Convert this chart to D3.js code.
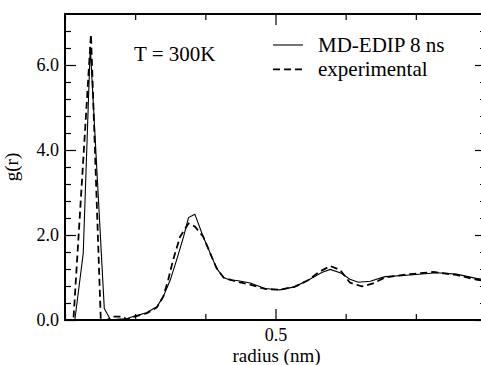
<!DOCTYPE html>
<html>
<head>
<meta charset="utf-8">
<script src="https://cdn.jsdelivr.net/npm/d3@7"></script>
<style>
  body { margin: 0; background: #fff; }
</style>
</head>
<body>
<div id="chart"></div>
<script>
// MD-EDIP 8 ns (solid)
const mdRadius = [0.200, 0.214, 0.226, 0.236, 0.256, 0.265, 0.278, 0.288, 0.297, 0.316, 0.331, 0.340, 0.350, 0.359, 0.369, 0.376, 0.385, 0.397, 0.407, 0.416, 0.426, 0.435, 0.445, 0.464, 0.485, 0.506, 0.527, 0.547, 0.566, 0.578, 0.594, 0.606, 0.618, 0.635, 0.656, 0.692, 0.730, 0.758, 0.786, 0.800];
const mdG = [0, 0, 1.57, 6.43, 0.27, 0.0, 0.02, 0.03, 0.08, 0.17, 0.31, 0.55, 0.94, 1.41, 1.96, 2.41, 2.49, 1.96, 1.57, 1.22, 1.00, 0.94, 0.93, 0.87, 0.74, 0.71, 0.78, 0.94, 1.12, 1.19, 1.10, 0.96, 0.89, 0.91, 1.02, 1.06, 1.11, 1.08, 0.98, 0.95];

// experimental (dashed)
const expRadius = [0.200, 0.212, 0.237, 0.251, 0.260, 0.268, 0.283, 0.288, 0.296, 0.317, 0.331, 0.340, 0.347, 0.354, 0.364, 0.376, 0.385, 0.397, 0.407, 0.416, 0.426, 0.445, 0.464, 0.485, 0.506, 0.527, 0.547, 0.561, 0.578, 0.592, 0.606, 0.623, 0.639, 0.656, 0.692, 0.725, 0.758, 0.786, 0.800];
const expG = [0, 0, 6.72, 0, 0, 0.08, 0.08, 0.0, 0.07, 0.16, 0.30, 0.55, 0.94, 1.41, 1.96, 2.27, 2.20, 1.96, 1.57, 1.22, 1.00, 0.90, 0.83, 0.73, 0.71, 0.78, 0.94, 1.12, 1.27, 1.18, 0.88, 0.79, 0.86, 1.00, 1.08, 1.13, 1.06, 0.95, 0.92];

const xMajor = [0.5];
const xMinor = [0.2, 0.3, 0.4, 0.6, 0.7, 0.8];
const yMajor = [0, 2, 4, 6];
const yMinor = [0.4, 0.8, 1.2, 1.6, 2.4, 2.8, 3.2, 3.6, 4.4, 4.8, 5.2, 5.6, 6.4, 6.8];

const legendLabels = ["MD-EDIP 8 ns", "experimental"];

const width = 481, height = 365;
const plotLeft = 65, plotTop = 14, plotRight = 486, plotBottom = 320;

const svg = d3.select("#chart").append("svg")
    .attr("width", width)
    .attr("height", height);

// x runs past the cropped right edge, like the original figure
const x = d3.scaleLinear().domain([0.2, 0.8]).range([plotLeft, plotRight]);
const y = d3.scaleLinear().domain([0, 7.2]).range([plotBottom, plotTop]);

const plain = sel => {
    sel.select(".domain").remove();
    sel.selectAll("line").attr("stroke", "#000").attr("stroke-width", 1.2);
};

// ticks point inward and are mirrored on all four sides
svg.append("g").attr("transform", `translate(0,${plotBottom})`)
  .call(d3.axisBottom(x).tickValues(xMajor).tickSize(-11).tickPadding(8).tickFormat(d3.format(".1f")))
  .call(plain);
svg.append("g").attr("transform", `translate(0,${plotBottom})`)
  .call(d3.axisBottom(x).tickValues(xMinor).tickSize(-6).tickFormat(""))
  .call(plain);
svg.append("g").attr("transform", `translate(0,${plotTop})`)
  .call(d3.axisTop(x).tickValues(xMajor).tickSize(-11).tickFormat(""))
  .call(plain);
svg.append("g").attr("transform", `translate(0,${plotTop})`)
  .call(d3.axisTop(x).tickValues(xMinor).tickSize(-6).tickFormat(""))
  .call(plain);

svg.append("g").attr("transform", `translate(${plotLeft},0)`)
  .call(d3.axisLeft(y).tickValues(yMajor).tickSize(-11).tickPadding(6).tickFormat(d3.format(".1f")))
  .call(plain);
svg.append("g").attr("transform", `translate(${plotLeft},0)`)
  .call(d3.axisLeft(y).tickValues(yMinor).tickSize(-6).tickFormat(""))
  .call(plain);
svg.append("g").attr("transform", `translate(${plotRight},0)`)
  .call(d3.axisRight(y).tickValues(yMajor).tickSize(-11).tickFormat(""))
  .call(plain);
svg.append("g").attr("transform", `translate(${plotRight},0)`)
  .call(d3.axisRight(y).tickValues(yMinor).tickSize(-6).tickFormat(""))
  .call(plain);

svg.selectAll(".tick text")
  .attr("font-family", "Liberation Serif")
  .attr("font-size", 18)
  .attr("fill", "#000");

// curves
const line = d3.line().x(d => x(d[0])).y(d => y(d[1]));

svg.append("path")
  .datum(d3.zip(mdRadius, mdG))
  .attr("fill", "none")
  .attr("stroke", "#000")
  .attr("stroke-width", 1.1)
  .attr("d", line);

svg.append("path")
  .datum(d3.zip(expRadius, expG))
  .attr("fill", "none")
  .attr("stroke", "#000")
  .attr("stroke-width", 1.8)
  .attr("stroke-dasharray", "7,4")
  .attr("d", line);

// frame
svg.append("rect")
  .attr("x", plotLeft).attr("y", plotTop)
  .attr("width", plotRight - plotLeft).attr("height", plotBottom - plotTop)
  .attr("fill", "none").attr("stroke", "#000").attr("stroke-width", 2);

// axis titles
svg.append("text")
  .attr("x", x(0.5) + 1).attr("y", 362)
  .attr("text-anchor", "middle")
  .attr("font-family", "Liberation Serif").attr("font-size", 19)
  .text("radius (nm)");

svg.append("text")
  .attr("transform", `translate(18,${(plotTop + plotBottom) / 2}) rotate(-90)`)
  .attr("text-anchor", "middle")
  .attr("font-family", "Liberation Serif").attr("font-size", 19)
  .text("g(r)");

// annotation
svg.append("text")
  .attr("x", 134).attr("y", 61)
  .attr("font-family", "Liberation Serif").attr("font-size", 21)
  .text("T = 300K");

// legend
legendLabels.forEach((label, i) => {
    const ly = 45 + i * 24.3;
    svg.append("line")
      .attr("x1", 273).attr("x2", 303).attr("y1", ly).attr("y2", ly)
      .attr("stroke", "#000")
      .attr("stroke-width", i === 0 ? 1.1 : 1.8)
      .attr("stroke-dasharray", i === 0 ? null : "7,4");
    svg.append("text")
      .attr("x", 318).attr("y", ly + 6.7)
      .attr("font-family", "Liberation Serif").attr("font-size", 21)
      .text(label);
});
</script>
</body>
</html>
